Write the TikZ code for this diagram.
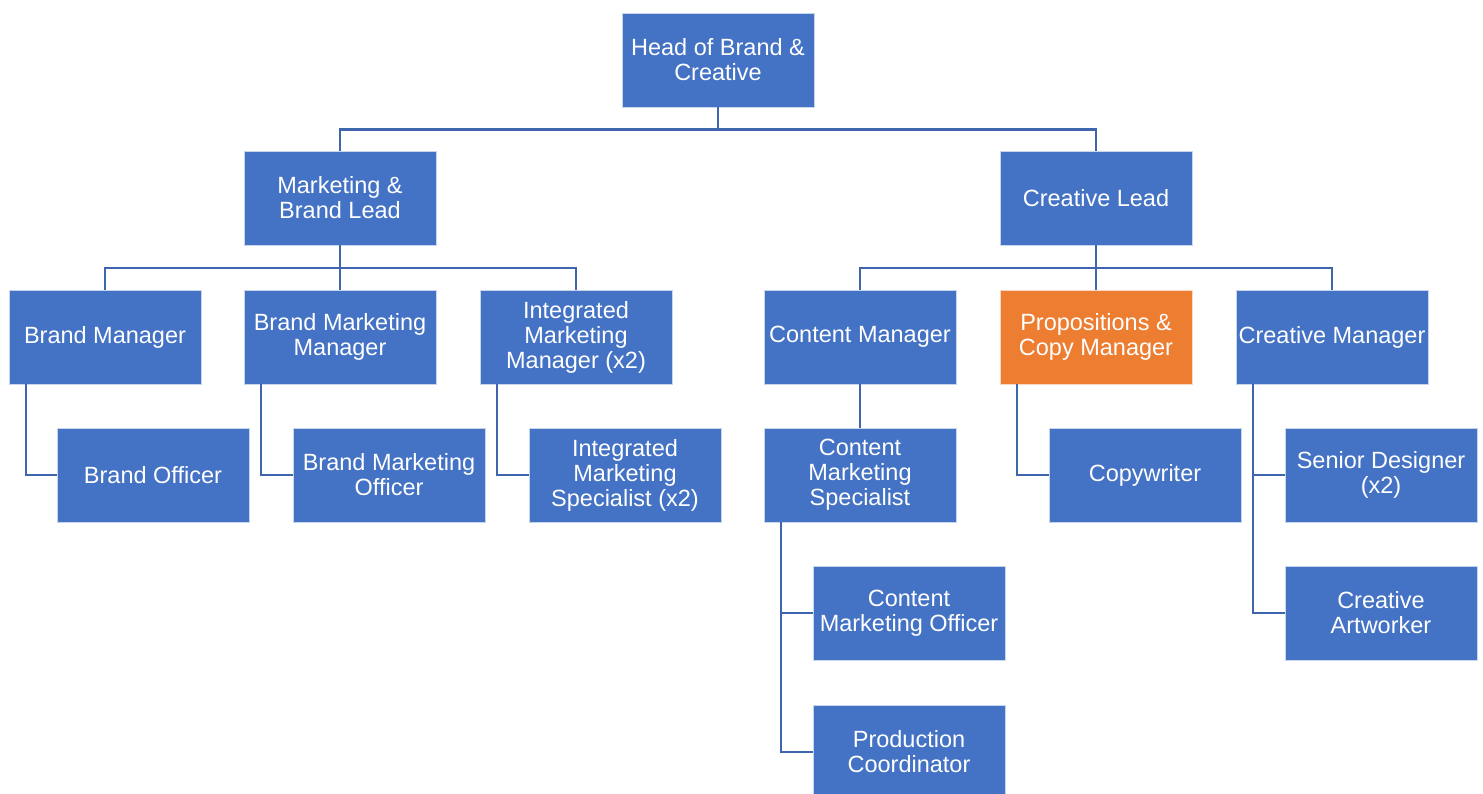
\documentclass[tikz,border=0pt]{standalone}
\usepackage{fontspec}
\setmainfont{Liberation Sans}
\usepackage{tikz}
\usetikzlibrary{calc}
\usetikzlibrary{positioning}

\definecolor{boxblue}{HTML}{4472C4}
\definecolor{boxorange}{HTML}{ED7D31}
\definecolor{linkblue}{HTML}{3F65AE}

\tikzset{
  role/.style={rectangle,fill=boxblue,draw=white!70!boxblue,line width=0.8pt,
    minimum width=192,minimum height=94,inner sep=0pt,align=center,text=white,
    font=\fontsize{23.5}{25}\selectfont},
  focus/.style={role,fill=boxorange,draw=white!70!boxorange},
  link/.style={draw=linkblue,line width=2.4pt}
}

\begin{document}
\begin{tikzpicture}[x=1pt,y=-1pt]
\useasboundingbox (0,0) rectangle (1483,793);
% top two levels
\node[role] (head) at (718,60) {Head of Brand \&\\ Creative};
\node[role] (mbl) at (340,198) {Marketing \&\\ Brand Lead};
\node[role] (cl) at (1096,198) {Creative Lead};
% managers
\foreach \n/\x/\t in {bm/105/Brand Manager, bmm/340/{Brand Marketing\\ Manager},
    imm/576/{Integrated\\ Marketing\\ Manager (x2)}, cm/860/Content Manager,
    crm/1332/Creative Manager}
  \node[role] (\n) at (\x,337) {\t};
\node[focus] (pcm) at (1096,337) {Propositions \&\\ Copy Manager};
% officers and specialists
\foreach \n/\x/\t in {bo/153/Brand Officer, bmo/389/{Brand Marketing\\ Officer},
    ims/625/{Integrated\\ Marketing\\ Specialist (x2)}, cms/860/{Content\\ Marketing\\ Specialist},
    cw/1145/Copywriter, sd/1381/{Senior Designer\\ (x2)}}
  \node[role] (\n) at (\x,475) {\t};
\node[role] (cmo) at (909,613) {Content\\ Marketing Officer};
\node[role] (ca) at (1381,613) {Creative\\ Artworker};
\node[role] (pc) at (909,752) {Production\\ Coordinator};

% bus lines
\foreach \c in {mbl,cl} \draw[link] (head.south) -- ++(0,22) -| (\c.north);
\foreach \c in {bm,bmm,imm} \draw[link] (mbl.south) -- ++(0,22.5) -| (\c.north);
\foreach \c in {cm,pcm,crm} \draw[link] (cl.south) -- ++(0,22.5) -| (\c.north);
\draw[link] (cm.south) -- (cms.north);
% side links
\foreach \p/\c in {bm/bo,bmm/bmo,imm/ims,pcm/cw,crm/sd,crm/ca,cms/cmo,cms/pc}
  \draw[link] ([xshift=17.5pt]\p.south west) |- (\c.west);
\end{tikzpicture}
\end{document}
